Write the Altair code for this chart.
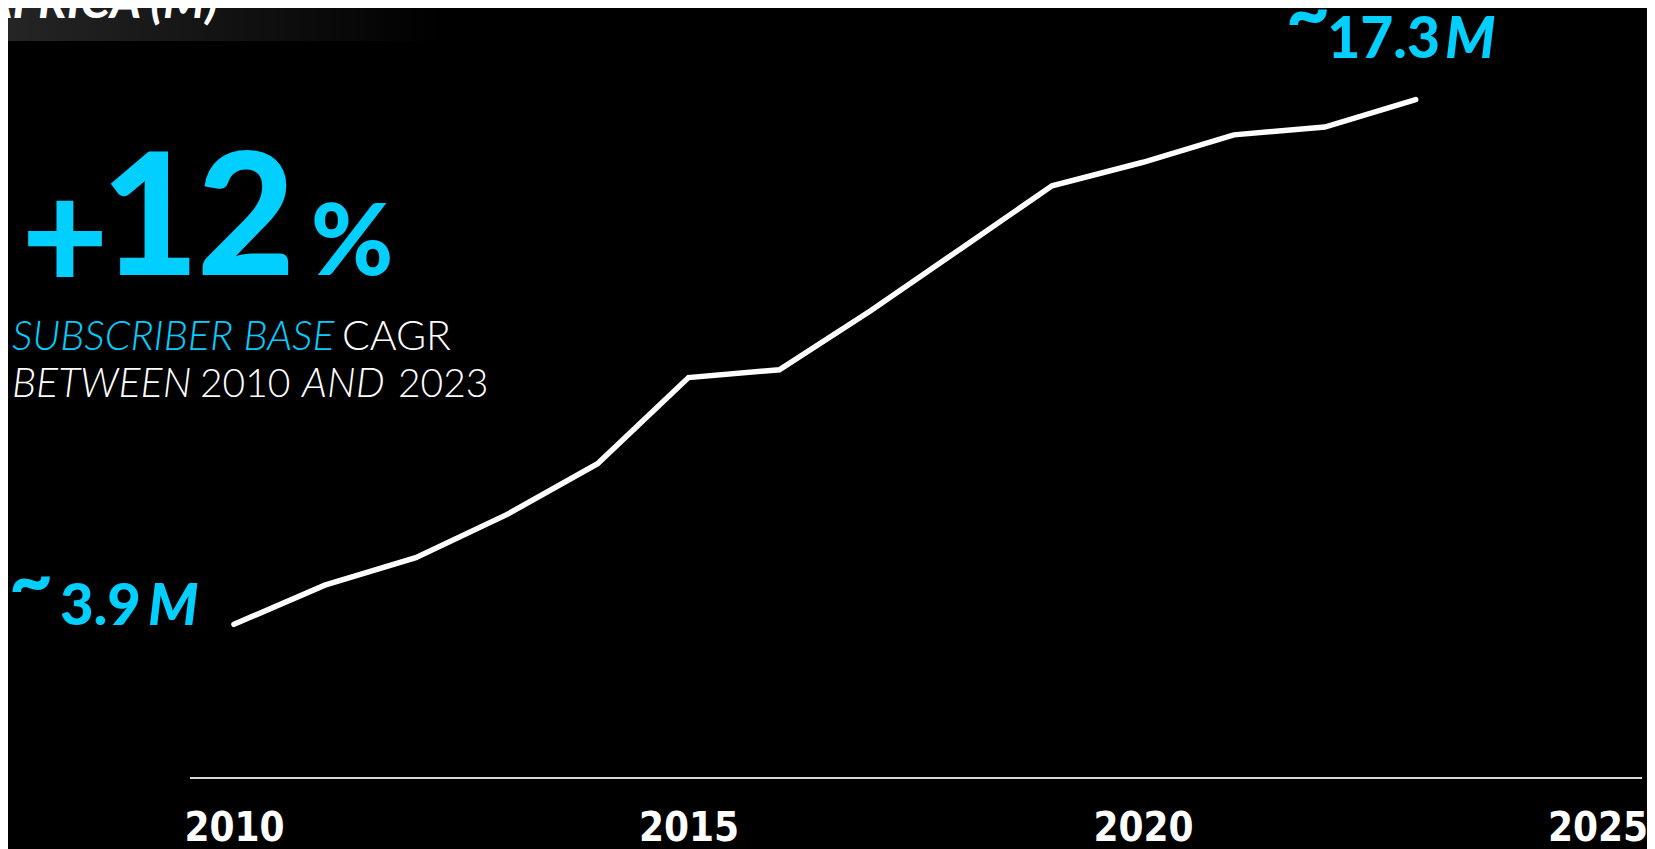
import altair as alt
import pandas as pd

# ---- data ----
YEARS = [2010, 2011, 2012, 2013, 2014, 2015, 2016, 2017, 2018, 2019, 2020, 2021, 2022, 2023]
SUBS = [3.9, 4.9, 5.6, 6.7, 8.0, 10.2, 10.4, 11.9, 13.5, 15.1, 15.7, 16.4, 16.6, 17.3]
TICK_YEARS = [2010, 2015, 2020, 2025]
TITLE = "AFRICA (M)"
CAGR = ["+", "1", "2", "%"]
SUB1 = ["SUBSCRIBER BASE", "CAGR"]
SUB2 = ["BETWEEN", "2010", "AND", "2023"]

CYAN = "#00CFFF"
SANS = "Lato"
COND = "DejaVu Sans Condensed, Liberation Sans Narrow, sans-serif"
W, H = 1639, 769
X_DOMAIN = [2007.514, 2025.545]
Y_DOMAIN = [0, 19.64]

df = pd.DataFrame({"year": YEARS, "subs": SUBS})
one = pd.DataFrame({"k": [0]})

x = alt.X(
    "year:Q",
    scale=alt.Scale(domain=X_DOMAIN, nice=False, zero=False),
    axis=alt.Axis(
        values=TICK_YEARS, format="d", title=None, grid=False, domain=False,
        ticks=False, labelFont=COND, labelFontSize=40, labelFontWeight="bold",
        labelColor="white", labelPadding=31, labelFlush=False, labelOverlap=False,
    ),
)
y = alt.Y("subs:Q", scale=alt.Scale(domain=Y_DOMAIN, nice=False, zero=True), axis=None)

line = alt.Chart(df).mark_line(
    color="white", strokeWidth=5.5, strokeCap="round", strokeJoin="miter"
).encode(x=x, y=y)

axis_rule = alt.Chart(one).mark_rule(color="#d6d6d6", strokeWidth=2).encode(
    x=alt.value(182), x2=alt.value(1634), y=alt.value(770)
)

band = alt.Chart(one).mark_rect(
    fill=alt.LinearGradient(
        gradient="linear",
        stops=[alt.GradientStop(color="#252525", offset=0),
               alt.GradientStop(color="#000000", offset=1)],
        x1=0, x2=1, y1=0, y2=0,
    )
).encode(x=alt.value(0), x2=alt.value(432), y=alt.value(0), y2=alt.value(33))


def txt(s, px, py, size, color="white", weight="normal", style="normal",
        align="left", font=SANS):
    return alt.Chart(pd.DataFrame({"t": [s]})).mark_text(
        font=font, fontSize=size, fontWeight=weight, fontStyle=style,
        align=align, baseline="alphabetic", color=color,
    ).encode(x=alt.value(px - 8), y=alt.value(py - 8), text="t:N")


texts = [
    txt(TITLE, 218, 18, 48, weight="bold", style="italic", align="right"),
    # +12%
    txt(CAGR[0], 65, 290, 150, color=CYAN, weight=900, align="center"),
    txt(CAGR[1], 150, 275, 170, color=CYAN, weight=900, align="center"),
    txt(CAGR[2], 246, 275, 170, color=CYAN, weight=900, align="center"),
    txt(CAGR[3], 352, 275, 100, color=CYAN, weight=900, align="center"),
    # subtitle
    txt(SUB1[0], 12, 350, 41, color=CYAN, weight=300, style="italic"),
    txt(SUB1[1], 342, 350, 41, weight=300),
    txt(SUB2[0], 12, 397, 41, weight=300, style="italic"),
    txt(SUB2[1], 200, 397, 39, weight=300),
    txt(SUB2[2], 302, 397, 41, weight=300, style="italic"),
    txt(SUB2[3], 398, 397, 39, weight=300),
    # start label
    txt("~", 31, 607, 76, color=CYAN, weight=900, align="center"),
    txt(f"{SUBS[0]}", 141, 625, 58, color=CYAN, weight=900, align="right"),
    txt("M", 148, 625, 57, color=CYAN, weight=900, style="italic"),
    # end label
    txt("~", 1308, 40, 76, color=CYAN, weight=900, align="center"),
    txt(f"{SUBS[-1]}", 1440, 58, 57, color=CYAN, weight=900, align="right"),
    txt("M", 1445, 58, 57, color=CYAN, weight=900, style="italic"),
]

chart = alt.layer(band, axis_rule, line, *texts).properties(
    width=W, height=H,
    padding={"left": 0, "top": 0, "right": 0, "bottom": 80},
    autosize=alt.AutoSizeParams(type="none"),
    background="#000000",
).configure_view(strokeWidth=0)

chart.save("out.html", embed_options={"renderer": "svg", "actions": False})
